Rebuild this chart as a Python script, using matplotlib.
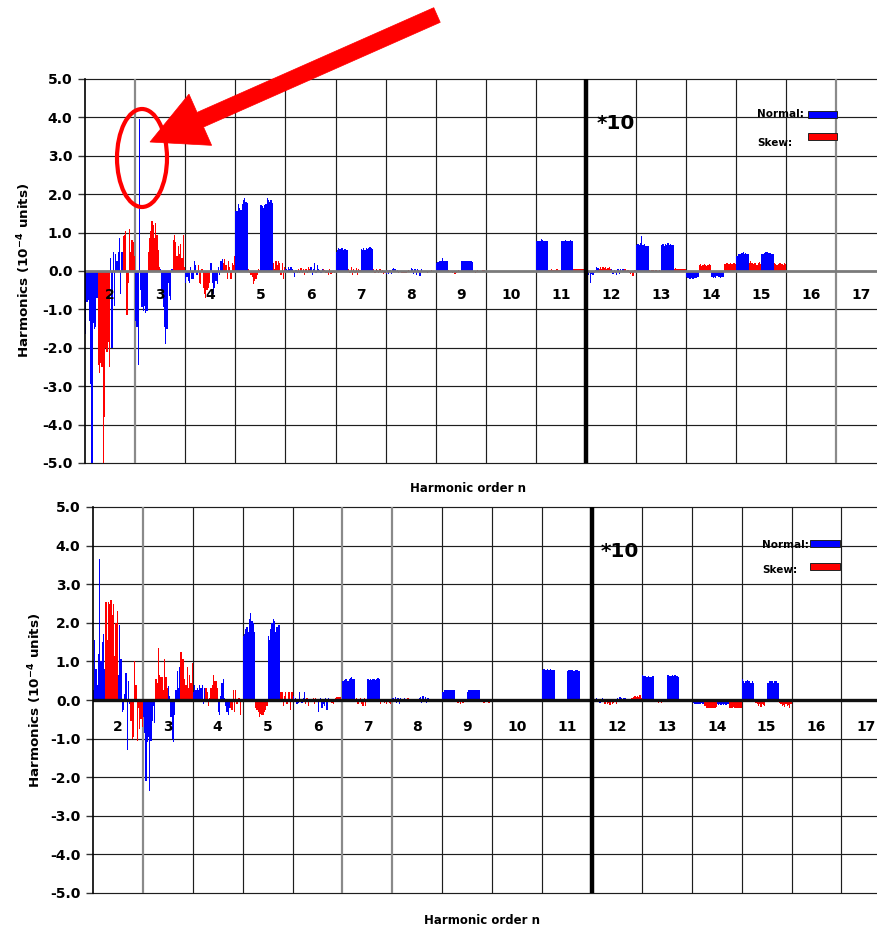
import numpy as np
import matplotlib
matplotlib.use("Agg")
import matplotlib.pyplot as plt
from matplotlib.patches import Rectangle, Ellipse, Polygon

plt.rcParams['font.family'] = ['DejaVu Sans']

# ---------------- data ----------------
harmonics = [2, 3, 4, 5, 6, 7, 8, 9, 10, 11, 12, 13, 14, 15]
cell_labels = [2, 3, 4, 5, 6, 7, 8, 9, 10, 11, 12, 13, 14, 15, 16, 17]
y_ticks = [-5, -4, -3, -2, -1, 0, 1, 2, 3, 4, 5]
scale_break = 11.5   # harmonics above this are shown *10

# Top panel: b = normal (1st + 3rd quarter of each cell), a = skew (2nd + 4th quarter)
top_b2 = [-1.65, -0.8, -0.75, -1.3, -2.95, -5.0, -1.35, -1.5, -1.45, -0.7,
          0.35, -2.0, 0.5, -0.9, 0.45, 0.25, 0.5, 0.85, -0.6, 0.5]
top_a2 = [-2.45, -2.65, -2.4, -2.5, -5.0, -3.8, -2.0, -2.1, -1.85, -2.5,
          0.9, 0.95, 1.05, -1.15, -0.3, 1.1, 0.5, 0.8, 0.75, 0.4]
top_b3 = [-1.3, -1.45, -2.45, 3.95, -0.5, -0.95, -1.05, -0.9, -1.1, -1.05,
          0.05, -0.5, -0.95, -1.45, -1.9, -1.5, -0.3, -0.65, -0.75, 0.05]
top_a3 = [0.5, 0.85, 1.05, 1.3, 1.2, 0.85, 1.25, 0.95, 0.55, 0.1,
          0.8, 0.95, 0.75, 0.4, 0.65, 0.45, 0.7, 0.35, 0.95, 0.1]
top_b4 = [-0.3, -0.15, -0.25, -0.3, 0.1, -0.2, -0.2, 0.25, 0.15, -0.1,
          0.2, -0.3, -0.6, -0.45, -0.25, -0.35, 0.1, -0.1, 0.25, 0.3]
top_a4 = [0.15, -0.3, -0.35, 0.05, -0.45, -0.6, -0.7, -0.5, -0.45, -0.3,
          0.2, 0.3, 0.15, -0.2, 0.25, 0.1, -0.2, 0.2, 0.15, 0.4]
top_b5 = [1.57, 1.57, 1.75, 1.65, 1.6, 1.75, 1.85, 1.9, 1.8, 1.78,
          1.72, 1.7, 1.65, 1.72, 1.75, 1.9, 1.85, 1.8, 1.85, 1.78]
top_a5 = [0.05, -0.05, -0.1, -0.15, -0.35, -0.25, -0.2, -0.1, 0.05, 0.02,
          0.2, 0.05, 0.25, 0.15, 0.25, 0.2, -0.1, 0.2, -0.2, 0.1]
top_b6 = [0.05, 0.02, 0.1, 0.05, 0.1, 0.05, -0.05, -0.15, 0.03, -0.05,
          0.1, -0.1, 0.05, 0.2, -0.05, 0.15, 0.05, 0.02, -0.05, 0.05]
top_a6 = [0.05, -0.05, 0.08, -0.05, 0.05, -0.1, 0.05, -0.05, 0.1, 0.05,
          0.05, 0.02, -0.05, -0.05, -0.1, 0.05, -0.08, -0.05, -0.03, -0.05]
top_b7 = [0.5, 0.55, 0.6, 0.57, 0.6, 0.6, 0.55, 0.58, 0.55, 0.55,
          0.58, 0.55, 0.6, 0.55, 0.6, 0.58, 0.6, 0.62, 0.6, 0.58]
top_a7 = [0.05, -0.05, 0.1, -0.1, 0.05, -0.05, 0.08, -0.1, 0.05, 0.02,
          0.05, -0.05, 0.05, 0.02, -0.05, 0.05, -0.05, 0.03, -0.08, -0.05]
top_b8 = [-0.08, 0.02, -0.07, 0.03, -0.08, 0.05, 0.08, 0.05, -0.03, 0.02,
          0.08, 0.05, -0.08, 0.05, -0.1, 0.05, 0.03, -0.12, 0.05, -0.03]
top_a8 = [-0.05, -0.03, -0.05, -0.06, -0.05, -0.04, -0.05, -0.03, 0.02, -0.02,
          -0.02, -0.03, -0.02, -0.04, -0.02, -0.03, 0.02, -0.02, -0.03, -0.02]
top_b9 = [0.22, 0.23, 0.23, 0.25, 0.25, 0.33, 0.25, 0.25, 0.25, 0.25,
          0.25, 0.25, 0.25, 0.25, 0.25, 0.25, 0.27, 0.25, 0.25, 0.23]
top_a9 = [0.02, -0.03, -0.02, -0.05, -0.03, -0.08, -0.05, -0.03, 0.02, -0.02,
          -0.02, -0.05, -0.03, 0.02, -0.02, -0.03, -0.02, 0.03, 0.02, -0.02]
top_b10 = [0.01, 0.0, -0.01, 0.0, 0.01, 0.0, 0.0, -0.01, 0.0, 0.01,
           0.0, 0.01, 0.0, -0.01, 0.0, 0.0, 0.01, 0.0, -0.01, 0.0]
top_a10 = [0.0, -0.01, 0.0, 0.01, 0.0, 0.0, -0.01, 0.0, 0.01, 0.0,
           -0.01, 0.0, 0.0, 0.01, 0.0, -0.01, 0.0, 0.0, 0.01, 0.0]
top_b11 = [0.78, 0.78, 0.78, 0.78, 0.84, 0.8, 0.78, 0.78, 0.78, 0.78,
           0.77, 0.79, 0.78, 0.8, 0.78, 0.79, 0.78, 0.8, 0.78, 0.78]
top_a11 = [0.03, 0.03, 0.04, 0.03, 0.02, 0.03, 0.05, 0.04, 0.03, 0.02,
           0.05, 0.05, 0.05, 0.05, 0.05, 0.05, 0.05, 0.05, 0.05, 0.05]
top_b12 = [-0.05, -0.1, -0.05, -0.3, -0.08, -0.1, -0.05, 0.02, 0.1, 0.08,
           0.05, -0.08, 0.03, -0.05, -0.1, 0.04, -0.08, 0.05, -0.03, 0.05]
top_a12 = [0.05, 0.1, 0.05, 0.1, 0.08, 0.1, 0.05, 0.08, 0.1, 0.05,
           0.05, 0.05, -0.03, 0.03, -0.05, -0.08, -0.05, -0.12, 0.03, 0.02]
top_b13 = [0.68, 0.7, 0.68, 0.72, 0.9, 0.68, 0.7, 0.65, 0.65, 0.65,
           0.68, 0.7, 0.66, 0.7, 0.68, 0.72, 0.68, 0.7, 0.68, 0.68]
top_a13 = [0.02, -0.02, 0.03, 0.02, -0.03, 0.02, 0.03, -0.02, 0.02, 0.01,
           0.05, 0.07, 0.05, 0.05, 0.06, 0.05, 0.05, 0.04, 0.05, 0.05]
top_b14 = [-0.15, -0.18, -0.2, -0.2, -0.18, -0.2, -0.18, -0.18, -0.17, -0.15,
           -0.15, -0.17, -0.15, -0.17, -0.13, -0.15, -0.15, -0.17, -0.15, -0.15]
top_a14 = [0.15, 0.17, 0.13, 0.15, 0.17, 0.15, 0.13, 0.15, 0.17, 0.15,
           0.18, 0.18, 0.2, 0.18, 0.18, 0.2, 0.18, 0.2, 0.22, 0.18]
top_b15 = [0.4, 0.43, 0.43, 0.45, 0.48, 0.5, 0.45, 0.47, 0.45, 0.43,
           0.43, 0.45, 0.48, 0.5, 0.5, 0.48, 0.47, 0.48, 0.45, 0.45]
top_a15 = [0.2, 0.25, 0.2, 0.18, 0.22, 0.2, 0.15, 0.2, 0.23, 0.18,
           0.2, 0.18, 0.15, 0.18, 0.2, 0.2, 0.17, 0.15, 0.2, 0.18]

# Bottom panel
bot_b2 = [0.25, 1.55, 0.8, 0.4, 1.2, 3.65, 1.0, 1.5, 1.7, 0.8,
          0.65, 1.95, 1.05, -0.3, -0.25, 0.15, 0.7, -1.3, 0.5, -0.1]
bot_a2 = [2.55, 1.55, 2.55, 2.5, 2.6, 2.2, 2.5, 1.15, 2.0, 2.3,
          -0.55, -1.0, -0.95, 1.0, 0.38, -1.05, -0.2, -0.75, -0.5, -0.7]
bot_b3 = [-0.45, -0.85, -2.1, -1.1, -0.95, -2.35, -1.05, -0.55, -0.15, -0.6,
          0.35, 0.1, -0.45, -1.0, -1.1, -0.4, 0.25, 0.75, 0.3, 0.85]
bot_a3 = [0.55, 0.45, 1.35, 0.65, 0.6, 0.6, 0.25, 1.05, 0.6, 0.3,
          1.25, 1.05, 1.05, 0.55, 0.4, 0.85, 0.3, 0.65, 0.45, 0.95]
bot_b4 = [0.2, 0.4, 0.25, 0.3, 0.25, 0.4, 0.3, 0.4, -0.1, 0.3,
          -0.3, -0.4, 0.1, 0.45, 0.55, 0.05, -0.15, -0.3, -0.4, -0.2]
bot_a4 = [0.3, 0.2, -0.15, 0.05, 0.3, 0.4, 0.65, 0.5, 0.5, 0.3,
          -0.2, -0.25, 0.25, -0.3, 0.25, -0.1, 0.05, 0.05, -0.4, 0.02]
bot_b5 = [1.65, 1.72, 1.85, 1.9, 1.75, 2.1, 2.25, 2.05, 2.0, 1.75,
          1.65, 1.55, 1.85, 2.0, 2.1, 2.05, 1.75, 1.9, 1.95, 1.95]
bot_a5 = [-0.2, -0.25, -0.3, -0.45, -0.35, -0.4, -0.4, -0.3, -0.25, -0.15,
          0.2, 0.2, -0.15, 0.1, 0.2, -0.1, 0.2, 0.2, -0.25, 0.2]
bot_b6 = [0.1, -0.05, 0.05, -0.1, -0.08, 0.2, -0.05, -0.08, 0.05, 0.2,
          -0.3, -0.05, 0.05, -0.2, -0.1, -0.15, 0.05, -0.25, 0.05, -0.05]
bot_a6 = [-0.1, 0.05, -0.15, -0.05, 0.03, -0.05, 0.05, -0.1, 0.05, -0.05,
          -0.05, -0.08, -0.1, -0.05, 0.05, 0.08, 0.08, 0.08, 0.08, -0.05]
bot_b7 = [0.5, 0.52, 0.55, 0.55, 0.5, 0.55, 0.58, 0.6, 0.55, 0.55,
          0.55, 0.53, 0.55, 0.52, 0.55, 0.55, 0.53, 0.55, 0.57, 0.55]
bot_a7 = [-0.05, 0.05, -0.1, -0.05, 0.05, -0.1, -0.15, 0.05, -0.15, -0.05,
          -0.1, -0.05, -0.05, -0.08, -0.05, -0.1, -0.05, -0.08, -0.1, -0.05]
bot_b8 = [0.05, -0.05, 0.08, -0.08, 0.05, -0.1, 0.05, 0.03, -0.05, 0.05,
          -0.05, 0.05, 0.08, -0.08, 0.1, -0.05, 0.08, -0.08, 0.05, 0.03]
bot_a8 = [0.03, -0.03, 0.05, -0.03, 0.03, 0.02, -0.05, 0.03, -0.02, 0.02,
          0.02, -0.02, 0.03, -0.03, 0.02, -0.02, 0.02, 0.03, -0.02, 0.02]
bot_b9 = [0.2, 0.25, 0.25, 0.27, 0.25, 0.27, 0.25, 0.27, 0.25, 0.25,
          0.22, 0.25, 0.27, 0.25, 0.25, 0.27, 0.25, 0.25, 0.27, 0.25]
bot_a9 = [-0.03, -0.05, -0.08, -0.05, -0.1, -0.05, -0.08, -0.05, -0.03, -0.02,
          -0.03, -0.05, -0.03, -0.08, -0.05, -0.03, -0.05, -0.08, -0.03, -0.02]
bot_b10 = [0.0, 0.01, 0.0, -0.01, 0.0, 0.0, 0.01, 0.0, -0.01, 0.0,
           0.01, 0.0, 0.0, -0.01, 0.0, 0.01, 0.0, 0.0, -0.01, 0.0]
bot_a10 = [-0.01, 0.0, 0.0, 0.01, 0.0, -0.01, 0.0, 0.0, 0.01, 0.0,
           0.0, -0.01, 0.0, 0.0, 0.01, 0.0, -0.01, 0.0, 0.0, 0.01]
bot_b11 = [0.78, 0.8, 0.78, 0.78, 0.8, 0.78, 0.8, 0.78, 0.78, 0.78,
           0.76, 0.77, 0.78, 0.77, 0.78, 0.76, 0.78, 0.77, 0.78, 0.76]
bot_a11 = [-0.02, -0.03, -0.02, -0.03, -0.02, 0.0, -0.03, -0.02, -0.02, -0.03,
           -0.03, -0.02, -0.03, -0.02, -0.03, -0.02, -0.03, -0.02, -0.03, -0.02]
bot_b12 = [0.05, 0.08, -0.05, 0.05, -0.05, 0.03, -0.08, -0.05, 0.05, 0.03,
           0.05, -0.05, 0.08, 0.05, -0.03, 0.05, 0.05, -0.05, 0.03, 0.02]
bot_a12 = [-0.1, -0.05, -0.1, -0.08, -0.12, -0.05, -0.1, -0.08, -0.05, -0.1,
           -0.05, 0.05, 0.05, 0.08, 0.1, 0.08, 0.1, 0.08, 0.12, 0.05]
bot_b13 = [0.65, 0.63, 0.62, 0.6, 0.6, 0.62, 0.6, 0.6, 0.62, 0.62,
           0.65, 0.65, 0.63, 0.63, 0.65, 0.63, 0.65, 0.63, 0.63, 0.6]
bot_a13 = [-0.03, -0.05, -0.05, -0.08, -0.05, -0.07, -0.05, -0.03, -0.02, -0.02,
           -0.02, -0.03, -0.02, -0.03, 0.02, -0.03, -0.02, -0.03, -0.02, -0.03]
bot_b14 = [-0.05, -0.08, -0.1, -0.1, -0.1, -0.1, -0.1, -0.08, -0.1, -0.1,
           -0.1, -0.12, -0.1, -0.12, -0.1, -0.12, -0.1, -0.12, -0.1, -0.1]
bot_a14 = [-0.15, -0.2, -0.2, -0.22, -0.2, -0.2, -0.22, -0.2, -0.2, -0.18,
           -0.2, -0.2, -0.2, -0.18, -0.2, -0.2, -0.2, -0.2, -0.2, -0.2]
bot_b15 = [0.55, 0.5, 0.45, 0.5, 0.53, 0.48, 0.5, 0.45, 0.48, 0.45,
           0.43, 0.45, 0.5, 0.48, 0.5, 0.45, 0.48, 0.5, 0.45, 0.43]
bot_a15 = [-0.05, -0.08, -0.1, -0.15, -0.1, -0.18, -0.1, -0.12, -0.15, -0.05,
           -0.08, -0.1, -0.15, -0.12, -0.18, -0.1, -0.15, -0.12, -0.2, -0.1]

top_normal = [top_b2, top_b3, top_b4, top_b5, top_b6, top_b7, top_b8,
              top_b9, top_b10, top_b11, top_b12, top_b13, top_b14, top_b15]
top_skew = [top_a2, top_a3, top_a4, top_a5, top_a6, top_a7, top_a8,
            top_a9, top_a10, top_a11, top_a12, top_a13, top_a14, top_a15]
bot_normal = [bot_b2, bot_b3, bot_b4, bot_b5, bot_b6, bot_b7, bot_b8,
              bot_b9, bot_b10, bot_b11, bot_b12, bot_b13, bot_b14, bot_b15]
bot_skew = [bot_a2, bot_a3, bot_a4, bot_a5, bot_a6, bot_a7, bot_a8,
            bot_a9, bot_a10, bot_a11, bot_a12, bot_a13, bot_a14, bot_a15]

BLUE = '#0000FF'
RED = '#FF0000'
GRID = '#1e1e1e'

W, H = 878, 931
fig = plt.figure(figsize=(W / 100, H / 100), dpi=100)


def px_axes(left, top, right, bottom):
    return fig.add_axes([left / W, 1 - bottom / H, (right - left) / W, (bottom - top) / H])


def draw_panel(ax, normals, skews, zero_color, zero_lw, label_y, gray_x):
    ax.set_xlim(1.5, 17.5)
    ax.set_ylim(-5, 5)
    # grid
    for y in y_ticks:
        if y != 0:
            ax.axhline(y, color=GRID, lw=0.85, zorder=1, clip_on=False)
    for c in cell_labels:
        xb = c + 0.5
        if xb in gray_x:
            ax.axvline(xb, color='#8a8a8a', lw=1.6, zorder=1)
        else:
            ax.axvline(xb, color=GRID, lw=0.85, zorder=1)
    # bars
    for n, bvals, avals in zip(harmonics, normals, skews):
        k = len(bvals) // 2
        w = 0.25 / k
        for half in range(2):
            xs = n - 0.5 + half * 0.5 + (np.arange(k) + 0.5) * w
            ax.bar(xs, bvals[half * k:(half + 1) * k], width=w, color=BLUE,
                   linewidth=0, zorder=3)
            ax.bar(xs + 0.25, avals[half * k:(half + 1) * k], width=w, color=RED,
                   linewidth=0, zorder=3)
    ax.axhline(0, color=zero_color, lw=zero_lw, zorder=4)
    ax.axvline(scale_break, color='black', lw=3.2, zorder=5)
    for c in cell_labels:
        ax.text(c, label_y, str(c), ha='center', va='center', fontsize=10,
                fontweight='bold', zorder=6)
    ax.set_xticks([])
    ax.set_yticks(y_ticks)
    ax.set_yticklabels([f'{v:.1f}' for v in y_ticks], fontsize=10, fontweight='bold')
    ax.tick_params(axis='y', length=5, width=1, pad=4, color='#333333')
    for s in ['top', 'right', 'bottom']:
        ax.spines[s].set_visible(False)
    ax.spines['left'].set_color('black')
    ax.spines['left'].set_linewidth(1.2)
    ax.spines['left'].set_zorder(6)
    ax.set_facecolor('none')


def legend(ax, tx, ty_n, ty_s, rx0, rx1, ry_n, ry_s, rh):
    ax.text(tx, ty_n, 'Normal:', fontsize=7.5, fontweight='bold', ha='left', va='center', zorder=7)
    ax.text(tx, ty_s, 'Skew:', fontsize=7.5, fontweight='bold', ha='left', va='center', zorder=7)
    ax.add_patch(Rectangle((rx0, ry_n), rx1 - rx0, rh, facecolor=BLUE, edgecolor='#222222',
                           lw=0.7, zorder=7))
    ax.add_patch(Rectangle((rx0, ry_s), rx1 - rx0, rh, facecolor=RED, edgecolor='#222222',
                           lw=0.7, zorder=7))


# top panel: x 85 -> 886.6 px, y 79 -> 463 px
ax1 = px_axes(85, 79, 85 + 16 * 50.1, 463)
draw_panel(ax1, top_normal, top_skew, '#7a7a7a', 2.0, -0.63, [2.5, 16.5])
legend(ax1, 14.91, 4.09, 3.33, 15.93, 16.51, 3.98, 3.41, 0.19)
ax1.text(11.72, 3.85, '*10', fontsize=14.5, fontweight='bold', ha='left', va='center', zorder=7)

# bottom panel: x 93 -> 891 px, y 507 -> 893 px
ax2 = px_axes(93, 507, 93 + 16 * 49.9, 893)
draw_panel(ax2, bot_normal, bot_skew, '#111111', 2.4, -0.69, [2.5, 6.5, 7.5])
legend(ax2, 14.91, 4.02, 3.37, 15.87, 16.47, 3.96, 3.37, 0.18)
ax2.text(11.68, 3.86, '*10', fontsize=14.5, fontweight='bold', ha='left', va='center', zorder=7)

# axis titles
fig.text(468 / W, 1 - 489 / H, 'Harmonic order n', fontsize=8.5, fontweight='bold',
         ha='center', va='center')
fig.text(482 / W, 1 - 920 / H, 'Harmonic order n', fontsize=8.5, fontweight='bold',
         ha='center', va='center')
ylab = r'Harmonics (10$^{\mathbf{-4}}$ units)'
fig.text(24 / W, 1 - 270 / H, ylab, fontsize=9.7, fontweight='bold', rotation=90,
         ha='center', va='center')
fig.text(35 / W, 1 - 700 / H, ylab, fontsize=9.7, fontweight='bold', rotation=90,
         ha='center', va='center')

# annotation: red arrow + ellipse (pixel geometry, y measured downward)
tail = np.array([437.0, 15.0])
tip = np.array([150.0, 142.0])
u = (tip - tail) / np.linalg.norm(tip - tail)
p = np.array([-u[1], u[0]])
shaft_hw, head_hw, head_len = 8.0, 28.0, 55.0
base = tip - head_len * u
pts = [tail - shaft_hw * p, base - shaft_hw * p, base - head_hw * p, tip,
       base + head_hw * p, base + shaft_hw * p, tail + shaft_hw * p]
pts_fig = [(x / W, 1 - y / H) for x, y in pts]
fig.patches.append(Polygon(pts_fig, closed=True, facecolor=RED, edgecolor=RED, lw=0.5,
                           transform=fig.transFigure, zorder=10))
fig.patches.append(Ellipse((142 / W, 1 - 158 / H), 50 / W, 98 / H, facecolor='none',
                           edgecolor=RED, lw=3, transform=fig.transFigure, zorder=10))

fig.savefig('out.png', dpi=100, facecolor='white')
